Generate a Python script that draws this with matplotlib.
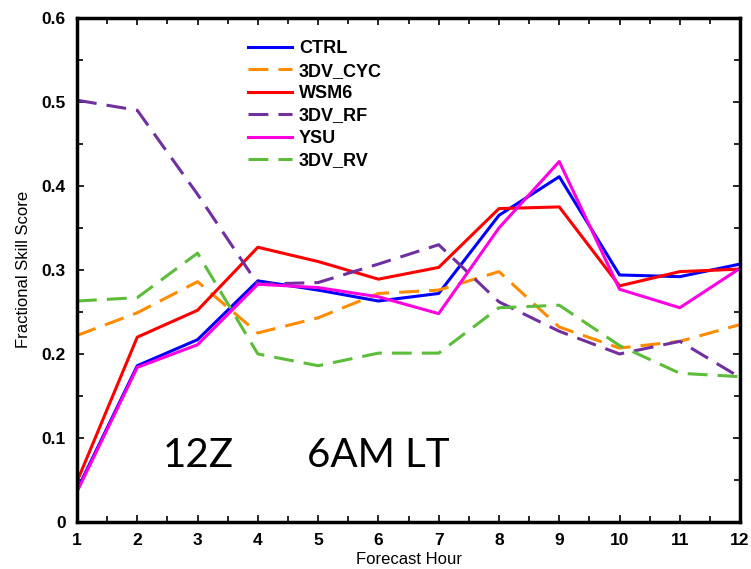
import matplotlib.pyplot as plt
from matplotlib.ticker import MultipleLocator

hours = [1, 2, 3, 4, 5, 6, 7, 8, 9, 10, 11, 12]

ctrl    = [0.038, 0.186, 0.217, 0.287, 0.276, 0.263, 0.272, 0.365, 0.411, 0.294, 0.292, 0.307]
cyc     = [0.222, 0.249, 0.286, 0.225, 0.243, 0.272, 0.276, 0.298, 0.232, 0.207, 0.215, 0.235]
wsm6    = [0.048, 0.220, 0.252, 0.327, 0.310, 0.289, 0.303, 0.373, 0.375, 0.281, 0.298, 0.301]
rf      = [0.502, 0.490, 0.390, 0.283, 0.285, 0.307, 0.330, 0.262, 0.227, 0.200, 0.215, 0.172]
ysu     = [0.036, 0.184, 0.211, 0.283, 0.279, 0.268, 0.248, 0.350, 0.429, 0.277, 0.255, 0.302]
rv      = [0.263, 0.267, 0.320, 0.200, 0.186, 0.201, 0.201, 0.255, 0.258, 0.210, 0.177, 0.173]

labels = ['CTRL', '3DV_CYC', 'WSM6', '3DV_RF', 'YSU', '3DV_RV']
colors = ['#0000FF', '#FF8C00', '#FF0000', '#7030A0', '#FF00E0', '#5BBD3A']
dashed = [False, True, False, True, False, True]
series = [ctrl, cyc, wsm6, rf, ysu, rv]

plt.rcParams['font.family'] = ['Liberation Sans', 'DejaVu Sans']

fig = plt.figure(figsize=(7.51, 5.69), dpi=100)
ax = fig.add_axes([0.1025, 0.0826, 0.883, 0.886])

for vals, lab, col, d in zip(series, labels, colors, dashed):
    if d:
        ax.plot(hours, vals, color=col, lw=2.2, label=lab, dashes=(6.5, 3.3))
    else:
        ax.plot(hours, vals, color=col, lw=2.2, label=lab)

ax.set_xlim(1, 12)
ax.set_ylim(0, 0.6)
ax.set_xticks(hours)
ax.set_yticks([0, 0.1, 0.2, 0.3, 0.4, 0.5, 0.6])
ax.set_yticklabels(['0', '0.1', '0.2', '0.3', '0.4', '0.5', '0.6'])
ax.yaxis.set_minor_locator(MultipleLocator(0.05))
ax.xaxis.set_minor_locator(MultipleLocator(0.5))
ax.tick_params(which='both', direction='in', top=True, right=True, width=1.2)
ax.tick_params(which='major', length=5, labelsize=12.5, pad=8)
ax.tick_params(which='minor', length=4)
for t in ax.get_xticklabels() + ax.get_yticklabels():
    t.set_fontweight('bold')
for s in ax.spines.values():
    s.set_linewidth(2.5)

ax.set_xlabel('Forecast Hour', fontsize=12, labelpad=3)
ax.set_ylabel('Fractional Skill Score', fontsize=12, labelpad=8)

leg = ax.legend(loc='upper left', bbox_to_anchor=(0.234, 0.988), frameon=False,
                handlelength=2.4, handletextpad=0.4, labelspacing=0.30,
                prop={'weight': 'bold', 'size': 13})

ax.text(2.43, 0.079, '12Z', fontsize=29, family=['Lato', 'DejaVu Sans'], va='center')
ax.text(4.82, 0.079, '6AM LT', fontsize=29, family=['Lato', 'DejaVu Sans'], va='center')

fig.savefig('out.png', dpi=100)
